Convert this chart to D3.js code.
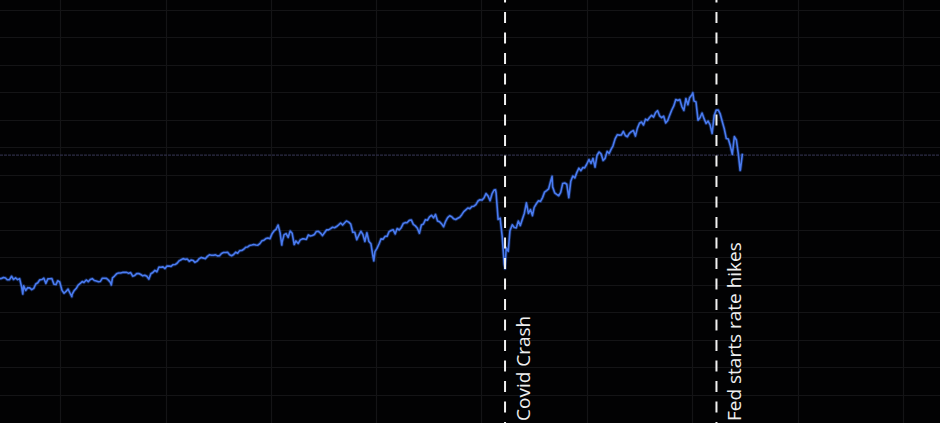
<!DOCTYPE html>
<html>
<head>
<meta charset="utf-8">
<script src="https://cdn.jsdelivr.net/npm/d3@7"></script>
<style>
  html, body { margin: 0; padding: 0; background: #000; overflow: hidden; }
  svg { display: block; }
</style>
</head>
<body>
<svg id="chart" width="940" height="423"></svg>
<script>
// ---- Data (S&P 500, weekly closes plus key daily extremes) ----
const dates = [
"2015-06-05","2015-06-12","2015-06-19","2015-06-26","2015-07-02","2015-07-10","2015-07-17","2015-07-24","2015-07-31",
"2015-08-07","2015-08-14","2015-08-21","2015-08-25","2015-08-28","2015-09-04","2015-09-11","2015-09-18","2015-09-25",
"2015-10-02","2015-10-09","2015-10-16","2015-10-23","2015-10-30","2015-11-06","2015-11-13","2015-11-20","2015-11-27",
"2015-12-04","2015-12-11","2015-12-18","2015-12-24","2015-12-31",
"2016-01-08","2016-01-15","2016-01-22","2016-01-29","2016-02-05","2016-02-11","2016-02-12","2016-02-19","2016-02-26",
"2016-03-04","2016-03-11","2016-03-18","2016-03-24","2016-04-01","2016-04-08","2016-04-15","2016-04-22","2016-04-29",
"2016-05-06","2016-05-13","2016-05-20","2016-05-27","2016-06-03","2016-06-10","2016-06-17","2016-06-24","2016-06-27",
"2016-07-01","2016-07-08","2016-07-15","2016-07-22","2016-07-29","2016-08-05","2016-08-12","2016-08-19","2016-08-26",
"2016-09-02","2016-09-09","2016-09-16","2016-09-23","2016-09-30","2016-10-07","2016-10-14","2016-10-21","2016-10-28",
"2016-11-04","2016-11-11","2016-11-18","2016-11-25","2016-12-02","2016-12-09","2016-12-16","2016-12-23","2016-12-30",
"2017-01-06","2017-01-13","2017-01-20","2017-01-27","2017-02-03","2017-02-10","2017-02-17","2017-02-24","2017-03-03",
"2017-03-10","2017-03-17","2017-03-24","2017-03-31","2017-04-07","2017-04-13","2017-04-21","2017-04-28","2017-05-05",
"2017-05-12","2017-05-19","2017-05-26","2017-06-02","2017-06-09","2017-06-16","2017-06-23","2017-06-30","2017-07-07",
"2017-07-14","2017-07-21","2017-07-28","2017-08-04","2017-08-11","2017-08-18","2017-08-25","2017-09-01","2017-09-08",
"2017-09-15","2017-09-22","2017-09-29","2017-10-06","2017-10-13","2017-10-20","2017-10-27","2017-11-03","2017-11-10",
"2017-11-17","2017-11-24","2017-12-01","2017-12-08","2017-12-15","2017-12-22","2017-12-29",
"2018-01-05","2018-01-12","2018-01-19","2018-01-26","2018-02-02","2018-02-08","2018-02-09","2018-02-16","2018-02-23",
"2018-03-02","2018-03-09","2018-03-16","2018-03-23","2018-03-29","2018-04-06","2018-04-13","2018-04-20","2018-04-27",
"2018-05-04","2018-05-11","2018-05-18","2018-05-25","2018-06-01","2018-06-08","2018-06-15","2018-06-22","2018-06-29",
"2018-07-06","2018-07-13","2018-07-20","2018-07-27","2018-08-03","2018-08-10","2018-08-17","2018-08-24","2018-08-31",
"2018-09-07","2018-09-14","2018-09-20","2018-09-28","2018-10-05","2018-10-12","2018-10-19","2018-10-26","2018-11-02",
"2018-11-09","2018-11-16","2018-11-23","2018-11-30","2018-12-07","2018-12-14","2018-12-21","2018-12-24","2018-12-28",
"2019-01-04","2019-01-11","2019-01-18","2019-01-25","2019-02-01","2019-02-08","2019-02-15","2019-02-22","2019-03-01",
"2019-03-08","2019-03-15","2019-03-22","2019-03-29","2019-04-05","2019-04-12","2019-04-18","2019-04-26","2019-05-03",
"2019-05-10","2019-05-17","2019-05-24","2019-05-31","2019-06-07","2019-06-14","2019-06-21","2019-06-28","2019-07-05",
"2019-07-12","2019-07-19","2019-07-26","2019-08-02","2019-08-09","2019-08-16","2019-08-23","2019-08-30","2019-09-06",
"2019-09-13","2019-09-20","2019-09-27","2019-10-04","2019-10-11","2019-10-18","2019-10-25","2019-11-01","2019-11-08",
"2019-11-15","2019-11-22","2019-11-29","2019-12-06","2019-12-13","2019-12-20","2019-12-27",
"2020-01-03","2020-01-10","2020-01-17","2020-01-24","2020-01-31","2020-02-07","2020-02-14","2020-02-19","2020-02-21",
"2020-02-28","2020-03-06","2020-03-13","2020-03-20","2020-03-23","2020-03-27","2020-04-03","2020-04-09","2020-04-17",
"2020-04-24","2020-05-01","2020-05-08","2020-05-15","2020-05-22","2020-05-29","2020-06-05","2020-06-12","2020-06-19",
"2020-06-26","2020-07-02","2020-07-10","2020-07-17","2020-07-24","2020-07-31","2020-08-07","2020-08-14","2020-08-21",
"2020-08-28","2020-09-02","2020-09-04","2020-09-11","2020-09-18","2020-09-25","2020-10-02","2020-10-09","2020-10-16",
"2020-10-23","2020-10-30","2020-11-06","2020-11-13","2020-11-20","2020-11-27","2020-12-04","2020-12-11","2020-12-18",
"2020-12-24","2020-12-31",
"2021-01-08","2021-01-15","2021-01-22","2021-01-29","2021-02-05","2021-02-12","2021-02-19","2021-02-26","2021-03-05",
"2021-03-12","2021-03-19","2021-03-26","2021-04-01","2021-04-09","2021-04-16","2021-04-23","2021-04-30","2021-05-07",
"2021-05-14","2021-05-21","2021-05-28","2021-06-04","2021-06-11","2021-06-18","2021-06-25","2021-07-02","2021-07-09",
"2021-07-16","2021-07-23","2021-07-30","2021-08-06","2021-08-13","2021-08-20","2021-08-27","2021-09-03","2021-09-10",
"2021-09-17","2021-09-24","2021-10-01","2021-10-08","2021-10-15","2021-10-22","2021-10-29","2021-11-05","2021-11-12",
"2021-11-19","2021-11-26","2021-12-03","2021-12-10","2021-12-17","2021-12-23","2021-12-31",
"2022-01-03","2022-01-07","2022-01-14","2022-01-21","2022-01-28","2022-02-04","2022-02-11","2022-02-18","2022-02-25",
"2022-03-04","2022-03-11","2022-03-18","2022-03-25","2022-04-01","2022-04-08","2022-04-14","2022-04-22","2022-04-29",
"2022-05-06","2022-05-13","2022-05-20","2022-05-27","2022-06-03","2022-06-10","2022-06-16","2022-06-17","2022-06-24"
];
const closes = [
2092,2094,2110,2102,2077,2077,2127,2080,2104,
2078,2092,1971,1868,1989,1921,1961,1958,1932,
1951,2015,2033,2075,2079,2099,2023,2089,2090,
2092,2012,2006,2061,2044,
1922,1880,1907,1940,1880,1829,1865,1918,1948,
1999,2022,2050,2036,2073,2048,2081,2092,2065,
2057,2047,2052,2099,2099,2096,2071,2037,2001,
2103,2130,2162,2175,2174,2183,2184,2184,2169,
2180,2128,2139,2165,2168,2153,2133,2141,2126,
2085,2164,2182,2213,2192,2260,2258,2263,2239,
2277,2275,2271,2295,2297,2316,2351,2367,2383,
2373,2378,2344,2363,2355,2329,2349,2384,2399,
2391,2382,2416,2439,2432,2433,2438,2423,2425,
2459,2473,2472,2477,2441,2426,2443,2477,2461,
2500,2502,2519,2549,2553,2575,2581,2588,2582,
2579,2602,2642,2652,2676,2683,2674,
2743,2786,2810,2873,2762,2581,2620,2732,2747,
2691,2786,2752,2588,2641,2604,2656,2670,2670,
2663,2728,2713,2721,2735,2779,2780,2755,2718,
2760,2801,2802,2819,2840,2833,2850,2875,2902,
2872,2905,2931,2914,2885,2767,2768,2659,2723,
2781,2736,2633,2760,2633,2600,2417,2351,2486,
2532,2596,2671,2665,2707,2708,2776,2793,2804,
2743,2822,2800,2834,2893,2907,2905,2940,2946,
2881,2860,2826,2752,2873,2887,2950,2942,2990,
3014,2977,3026,2932,2919,2889,2847,2926,2979,
3007,2992,2962,2952,2970,2986,3023,3067,3093,
3120,3110,3141,3146,3169,3221,3240,
3235,3265,3330,3295,3226,3328,3380,3386,3338,
2954,2972,2711,2305,2237,2541,2489,2790,2875,
2837,2831,2930,2864,2955,3044,3194,3041,3098,
3009,3130,3185,3225,3216,3271,3351,3373,3397,
3508,3580,3427,3341,3319,3298,3348,3477,3484,
3465,3270,3510,3585,3558,3638,3699,3663,3709,
3703,3756,
3825,3768,3841,3714,3887,3934,3907,3811,3842,
3943,3913,3975,4020,4129,4185,4180,4181,4233,
4174,4156,4204,4230,4247,4166,4281,4352,4370,
4327,4412,4395,4437,4468,4442,4509,4535,4459,
4433,4455,4357,4391,4471,4545,4605,4697,4683,
4698,4595,4538,4712,4621,4725,4766,
4796,4677,4663,4398,4432,4501,4419,4349,4385,
4329,4204,4463,4543,4546,4488,4393,4272,4132,
4123,4024,3901,4158,4109,3901,3667,3675,3912
];
const eventDates = ["2020-03-23", "2022-03-26"];
const eventLabels = ["Covid Crash", "Fed starts rate hikes"];
const lastPrice = [3912];
const yGridValues = d3.range(0, 6001, 400);
const xGridYears = ["2016-01-01","2017-01-01","2018-01-01","2019-01-01","2020-01-01","2021-01-01","2022-01-01","2023-01-01","2024-01-01"];

// ---- Drawing ----
const W = 940, H = 423;
const parse = d3.utcParse("%Y-%m-%d");
const series = dates.map((d, i) => ({ date: parse(d), value: closes[i] }));

const x = d3.scaleUtc()
  .domain([parse("2015-06-07"), parse("2024-05-09")])
  .range([0, W]);
const y = d3.scaleLinear()
  .domain([0, 6145])
  .range([422.5, 0]);

const svg = d3.select("#chart");
svg.append("rect").attr("width", W).attr("height", H).attr("fill", "#020203");

// grid
const grid = svg.append("g");
grid.selectAll("line.h").data(yGridValues).join("line")
  .attr("x1", 0).attr("x2", W)
  .attr("y1", d => Math.round(y(d)) + 0.5).attr("y2", d => Math.round(y(d)) + 0.5)
  .attr("stroke", "#141416").attr("stroke-width", 1.2);
grid.selectAll("line.v").data(xGridYears).join("line")
  .attr("y1", 0).attr("y2", H)
  .attr("x1", d => Math.round(x(parse(d))) + 0.5).attr("x2", d => Math.round(x(parse(d))) + 0.5)
  .attr("stroke", "#141416").attr("stroke-width", 1.2);

// last price line
svg.selectAll("line.price").data(lastPrice).join("line")
  .attr("x1", 0).attr("x2", W)
  .attr("y1", d => y(d) + 1.5).attr("y2", d => y(d) + 1.5)
  .attr("stroke", "#2c2c46").attr("stroke-width", 1.3)
  .attr("stroke-dasharray", "3,1");

// series line
const line = d3.line().x(d => x(d.date)).y(d => y(d.value)).curve(d3.curveLinear);
svg.append("path").datum(series)
  .attr("d", line)
  .attr("fill", "none")
  .attr("stroke", "#2f5fd0").attr("stroke-width", 3.4).attr("stroke-opacity", 0.35)
  .attr("stroke-linejoin", "round");
svg.append("path").datum(series)
  .attr("d", line)
  .attr("fill", "none")
  .attr("stroke", "#4a7bf0").attr("stroke-width", 1.6)
  .attr("stroke-linejoin", "round");

// event markers
const ev = svg.selectAll("g.event").data(eventDates).join("g")
  .attr("transform", d => `translate(${x(parse(d))},0)`);
ev.append("line")
  .attr("x1", 0).attr("x2", 0).attr("y1", -8.5).attr("y2", H)
  .attr("stroke", "#f2f2f2").attr("stroke-width", 2)
  .attr("stroke-dasharray", "11,9.5");
ev.append("text")
  .attr("transform", "translate(25,421) rotate(-90)")
  .attr("text-anchor", "start")
  .attr("fill", "#f0f0f0")
  .style("font-family", "'Open Sans', sans-serif")
  .style("font-size", "19px")
  .text((d, i) => eventLabels[i]);
</script>
</body>
</html>
